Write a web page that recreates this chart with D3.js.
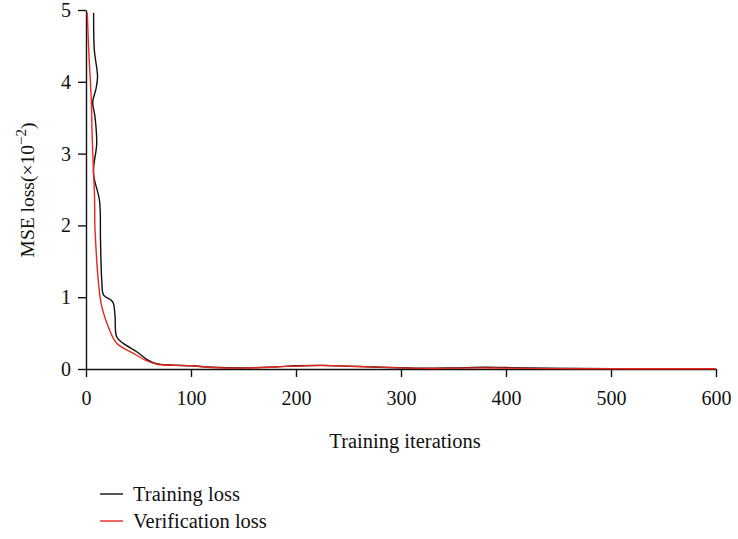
<!DOCTYPE html>
<html>
<head>
<meta charset="utf-8">
<script src="https://cdn.jsdelivr.net/npm/d3@7"></script>
<style>
  html, body { margin: 0; padding: 0; background: #fff; }
  svg { display: block; }
  text { font-family: "Liberation Serif", "DejaVu Serif", serif; fill: #111; }
</style>
</head>
<body>
<svg id="chart" width="738" height="539"></svg>
<script>
// Training loss curve, points in path order (iteration, MSE ×1e-2)
const trainIter = [7.3, 7.9, 11.0, 9.5, 6.4, 8.6, 10.2, 7.1, 12.9, 13.8, 15.0, 16.8, 23.8, 26.0, 27.6, 29.2, 35.2, 48.3, 59, 67.3, 80, 100, 120, 150, 180, 200, 225, 250, 280, 320, 350, 380, 400, 440, 500, 600];
const trainLoss = [4.96, 4.45, 4.07, 3.90, 3.72, 3.51, 3.14, 2.73, 2.34, 1.80, 1.24, 1.03, 0.96, 0.92, 0.75, 0.45, 0.36, 0.24, 0.125, 0.075, 0.055, 0.045, 0.025, 0.015, 0.03, 0.045, 0.05, 0.04, 0.025, 0.01, 0.015, 0.025, 0.02, 0.01, 0.005, 0.005];

// Verification loss curve
const validIter = [1.2, 2.6, 5.0, 6.0, 8.2, 8.6, 14.3, 21.2, 29.2, 44.8, 58.6, 68.6, 99, 120, 150, 200, 225, 260, 300, 330, 370, 400, 450, 600];
const validLoss = [4.96, 4.44, 3.75, 3.19, 2.35, 1.94, 0.92, 0.59, 0.36, 0.22, 0.11, 0.063, 0.047, 0.02, 0.012, 0.04, 0.048, 0.035, 0.015, 0.008, 0.015, 0.012, 0.005, 0.003];

const xTicks = [0, 100, 200, 300, 400, 500, 600];
const yTicks = [0, 1, 2, 3, 4, 5];
const seriesNames = ["Training loss", "Verification loss"];
const seriesColors = ["#111111", "#e8261c"];

const svg = d3.select("#chart");
const x = d3.scaleLinear().domain([0, 600]).range([86, 716]);
const y = d3.scaleLinear().domain([0, 5]).range([369, 10]);

const tickFont = 20;
const labelFont = 20.5;

// x axis
const gx = svg.append("g").attr("transform", `translate(0,${y(0)})`)
  .call(d3.axisBottom(x).tickValues(xTicks).tickFormat(d3.format("d"))
    .tickSize(8).tickSizeOuter(0).tickPadding(14));
// y axis
const gy = svg.append("g").attr("transform", `translate(${x(0)},0)`)
  .call(d3.axisLeft(y).tickValues(yTicks).tickFormat(d3.format("d"))
    .tickSize(8).tickSizeOuter(0).tickPadding(7));

[gx, gy].forEach(g => {
  g.selectAll("path.domain").attr("stroke", "#111").attr("stroke-width", 1.4);
  g.selectAll(".tick line").attr("stroke", "#111").attr("stroke-width", 1.4);
  g.selectAll(".tick text")
    .style("font-family", '"Liberation Serif", serif')
    .style("font-size", tickFont + "px")
    .attr("fill", "#111");
});

// curves
const line = d3.line()
  .x(d => x(d[0]))
  .y(d => y(d[1]))
  .curve(d3.curveCatmullRom.alpha(0.5));

const trainPts = trainIter.map((v, i) => [v, trainLoss[i]]);
const validPts = validIter.map((v, i) => [v, validLoss[i]]);

svg.append("path").datum(trainPts)
  .attr("d", line).attr("fill", "none")
  .attr("stroke", seriesColors[0]).attr("stroke-width", 1.4);
svg.append("path").datum(validPts)
  .attr("d", line).attr("fill", "none")
  .attr("stroke", seriesColors[1]).attr("stroke-width", 1.4);

// axis titles
svg.append("text")
  .attr("x", 405).attr("y", 448)
  .attr("text-anchor", "middle")
  .style("font-size", labelFont + "px")
  .text("Training iterations");

const yt = svg.append("text")
  .attr("transform", "translate(34,190) rotate(-90)")
  .attr("text-anchor", "middle")
  .style("font-size", "19.5px");
yt.append("tspan").text("MSE loss(×10");
yt.append("tspan").attr("dy", -8).style("font-size", "15px").text("−2");
yt.append("tspan").attr("dy", 8).text(")");

// legend
const legendY = [494, 521];
seriesNames.forEach((name, i) => {
  svg.append("line")
    .attr("x1", 100).attr("x2", 123)
    .attr("y1", legendY[i]).attr("y2", legendY[i])
    .attr("stroke", seriesColors[i]).attr("stroke-width", 1.4);
  svg.append("text")
    .attr("x", 133).attr("y", legendY[i] + 7)
    .style("font-size", labelFont + "px")
    .text(name);
});
</script>
</body>
</html>
